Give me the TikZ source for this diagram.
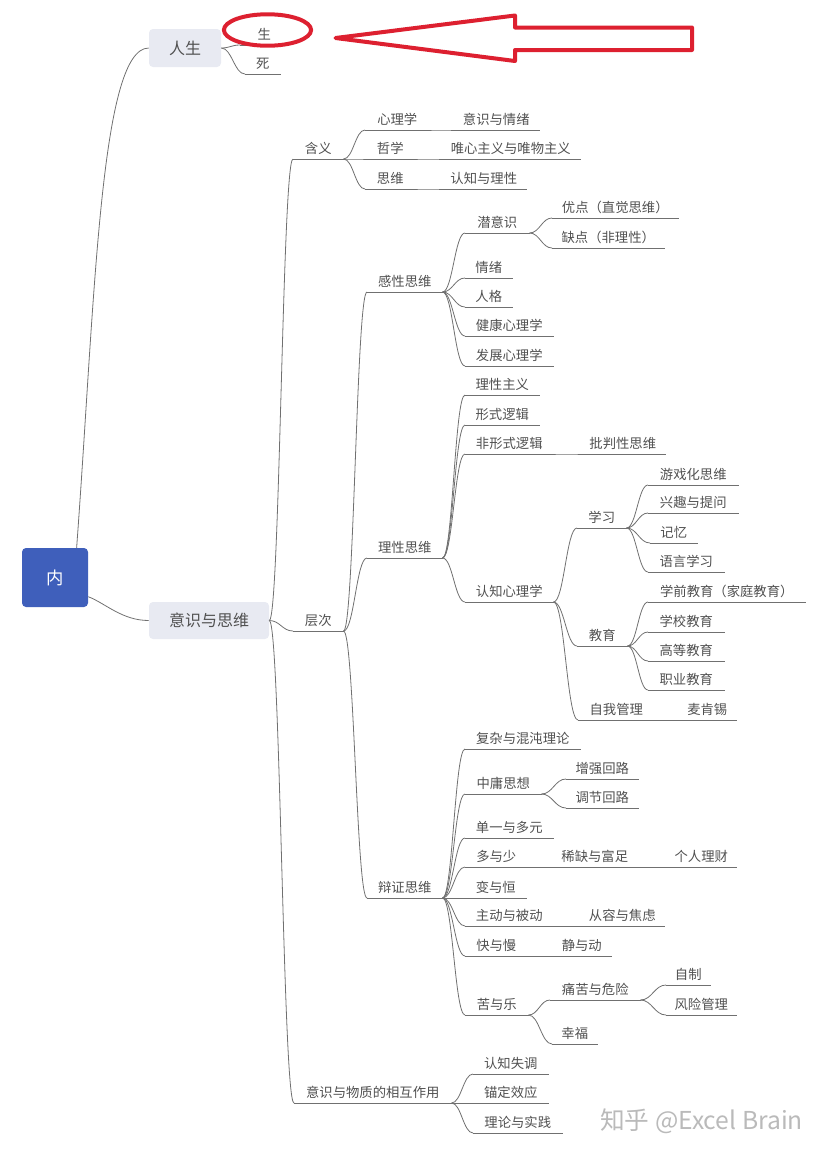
\documentclass[tikz,border=0pt]{standalone}
\usepackage{fontspec}
\setmainfont{Noto Sans CJK SC}
\usetikzlibrary{calc}
\definecolor{rootblue}{HTML}{3F5FBB}
\definecolor{mainfill}{HTML}{E8EAF2}
\definecolor{markred}{HTML}{DD2030}
\definecolor{inkgrey}{HTML}{505050}
\definecolor{linegrey}{HTML}{707070}
\tikzset{
	link/.style = {color = linegrey, line width = 0.6pt},
	topic/.style = {anchor = south west, inner xsep = 0pt, inner ysep = 2.7pt, text height = 8.5pt, text depth = 1.5pt, font = \fontsize{10}{12}\selectfont, text = inkgrey},
	mainbox/.style = {rounded corners = 3pt, fill = mainfill, inner sep = 0pt, font = \fontsize{12}{14}\selectfont, text = inkgrey},
	redmark/.style = {color = markred, line width = 3pt, line join = round}
}
\newcommand{\joint}[2]{\draw [link] let \p1 = (#1), \p2 = (#2), \n1 = {0.45*(\x2-\x1)} in (\p1) .. controls +(\n1,0) and +(-\n1,0) .. (\p2);}
\begin{document}
\begin{tikzpicture}[x=0.75pt, y=-0.75pt]
	\useasboundingbox (0,0) rectangle (825,1154);
	\node [rounded corners = 3pt, fill = rootblue, text = white, minimum width = 49.5pt, minimum height = 44.25pt, font = \fontsize{13}{15}\selectfont] (root) at (55,577.5) {内};
	\node [mainbox, minimum width = 54pt, minimum height = 28.5pt] (life) at (185,48) {人生};
	\node [mainbox, minimum width = 90pt, minimum height = 27.75pt] (mind) at (209,620.5) {意识与思维};
	\foreach \id/\xa/\xb/\ya/\txt in {
		born/240/288/45/生, death/245/280/74/死,
		meaning/293/343/159/含义, level/293/343/631/层次, interact/294/451/1103/意识与物质的相互作用,
		psych/365/429/130/心理学, psychsub/453/539/130/意识与情绪,
		philo/365/415/159/哲学, philosub/441/580/159/唯心主义与唯物主义,
		thought/365/415/189/思维, thoughtsub/441/526/189/认知与理性,
		emotive/367/442/292/感性思维, rational/367/442/558/理性思维, dialectic/367/442/898/辩证思维,
		subcon/465/529/233/潜意识, merit/552/678/218/优点（直觉思维）, flaw/552/664/248/缺点（非理性）,
		feeling/465/512/278/情绪, person/465/512/307/人格,
		health/465/553/336/健康心理学, growth/465/553/366/发展心理学,
		ratio/465/539/395/理性主义, formal/465/539/425/形式逻辑,
		informal/465/553/454/非形式逻辑, critical/580/665/454/批判性思维,
		cogni/465/553/602/认知心理学,
		study/577/626/528/学习, game/648/738/485/游戏化思维, interest/648/738/513/兴趣与提问,
		memory/650/697/543/记忆, language/648/724/572/语言学习,
		edu/577/627/646/教育, preschool/648/805/602/学前教育（家庭教育）, school/648/724/632/学校教育,
		college/648/724/661/高等教育, career/648/724/690/职业教育,
		selfman/578/654/720/自我管理, mckinsey/678/736/720/麦肯锡,
		chaos/465/580/749/复杂与混沌理论, middle/465/541/794/中庸思想,
		boost/566/638/779/增强回路, adjust/566/638/808/调节回路,
		onemany/465/553/838/单一与多元,
		muchless/465/527/867/多与少, scarce/552/637/867/稀缺与富足, finance/666/736/867/个人理财,
		change/465/526/898/变与恒,
		active/465/553/926/主动与被动, calm/580/664/926/从容与焦虑,
		fastslow/465/527/956/快与慢, still/552/611/956/静与动,
		joypain/465/528/1015/苦与乐, danger/550/640/1000/痛苦与危险, control/666/710/985/自制, risk/666/736/1015/风险管理,
		happy/552/597/1044/幸福,
		disson/473/548/1074/认知失调, anchor/473/548/1103/锚定效应, practice/473/562/1133/理论与实践}
	{
		\node [topic, minimum width = {(\xb-\xa)*0.75pt}] (\id) at (\xa,\ya) {\txt};
		\draw [link] (\id.south west) -- (\id.south east);
	}
	\foreach \a/\b in {
		meaning/psych, meaning/philo, meaning/thought,
		psych/psychsub, philo/philosub, thought/thoughtsub,
		level/emotive, level/rational, level/dialectic,
		emotive/subcon, emotive/feeling, emotive/person, emotive/health, emotive/growth,
		subcon/merit, subcon/flaw,
		rational/ratio, rational/formal, rational/informal, rational/cogni,
		informal/critical,
		cogni/study, cogni/edu, cogni/selfman, selfman/mckinsey,
		study/game, study/interest, study/memory, study/language,
		edu/preschool, edu/school, edu/college, edu/career,
		dialectic/chaos, dialectic/middle, dialectic/onemany, dialectic/muchless, dialectic/change, dialectic/active, dialectic/fastslow, dialectic/joypain,
		middle/boost, middle/adjust,
		muchless/scarce, scarce/finance, active/calm, fastslow/still,
		joypain/danger, joypain/happy, danger/control, danger/risk,
		interact/disson, interact/anchor, interact/practice}
	\joint{\a.south east}{\b.south west};
	\foreach \b in {meaning, level, interact}
	\joint{mind.east}{\b.south west};
	\joint{life.east}{born.south west};
	\joint{life.east}{death.south west};
	\draw [link] (root.54.5) .. controls (95,300) and (100,48) .. (life.west);
	\draw [link] (root.-30) .. controls (105,603) and (122,620.5) .. (mind.west);
	\draw [redmark] (267.5,30) ellipse [x radius = 32.7pt, y radius = 11.8pt];
	\draw [redmark] (335.5,38) -- (515,15.5) -- (515,27.5) -- (692,27.5) -- (692,50) -- (515,50) -- (515,61) -- cycle;
	\node [text = black!27, anchor = west, inner sep = 0pt, font = \fontsize{18.5}{22}\selectfont] (brand) at (600,1121) {知乎 @Excel Brain};
\end{tikzpicture}
\end{document}
